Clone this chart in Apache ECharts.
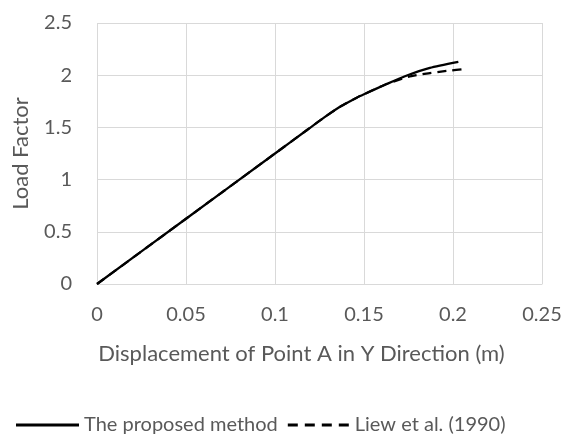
<!DOCTYPE html>
<html>
<head>
<meta charset="utf-8">
<script src="https://cdn.jsdelivr.net/npm/echarts@6/dist/echarts.min.js"></script>
<style>
  html, body { margin: 0; padding: 0; background: #fff; }
  #chart { width: 577px; height: 437px; }
</style>
</head>
<body>
<div id="chart"></div>
<script>
// Load–displacement curves for point A (Y direction)
const proposedX = [0, 0.05, 0.1, 0.1178, 0.1271, 0.1365, 0.1459, 0.15, 0.1627, 0.173, 0.187, 0.203];
const proposedY = [0, 0.625, 1.25, 1.4725, 1.589, 1.697, 1.785, 1.818, 1.915, 1.99, 2.07, 2.128];

const liewX = [0, 0.05, 0.1, 0.1178, 0.1271, 0.1365, 0.1459, 0.15, 0.1627, 0.1749, 0.185, 0.1964, 0.2077];
const liewY = [0, 0.625, 1.25, 1.4725, 1.589, 1.697, 1.785, 1.818, 1.915, 1.984, 2.016, 2.041, 2.062];

const seriesNames = ['The proposed method', 'Liew et al. (1990)'];
const xTicks = [0, 0.05, 0.1, 0.15, 0.2, 0.25];
const yTicks = [0, 0.5, 1, 1.5, 2, 2.5];

const pair = (xs, ys) => xs.map((x, i) => [x, ys[i]]);

const textColor = '#595959';
const gridColor = '#d9d9d9';
const font = 'Lato';
const tickSize = 20;
const titleSize = 22;

// Legend swatches: a solid bar and a four-dash bar
const solidIcon = 'path://M0,0H63V3H0Z';
const dashIcon = 'path://M0,0h10v3h-10z M17,0h10v3h-10z M34,0h10v3h-10z M51,0h10v3h-10z';

const chart = echarts.init(document.getElementById('chart'));
chart.setOption({
  animation: false,
  grid: { left: 97, right: 35, top: 23, bottom: 153, containLabel: false },
  xAxis: {
    type: 'value',
    min: xTicks[0], max: xTicks[xTicks.length - 1], interval: 0.05,
    name: 'Displacement of Point A in Y Direction (m)',
    nameLocation: 'middle', nameGap: 59,
    nameTextStyle: { color: textColor, fontSize: titleSize, fontFamily: font, padding: [0, 36, 0, 0] },
    axisLine: { show: true, lineStyle: { color: gridColor, width: 1 } },
    axisTick: { show: false },
    axisLabel: { color: textColor, fontSize: tickSize, fontFamily: font, margin: 21,
      formatter: v => String(+v.toFixed(2)) },
    splitLine: { show: true, lineStyle: { color: gridColor, width: 1 } }
  },
  yAxis: {
    type: 'value',
    min: yTicks[0], max: yTicks[yTicks.length - 1], interval: 0.5,
    name: 'Load Factor',
    nameLocation: 'middle', nameGap: 65, nameRotate: 90,
    nameTextStyle: { color: textColor, fontSize: titleSize, fontFamily: font },
    axisLine: { show: false },
    axisTick: { show: false },
    axisLabel: { color: textColor, fontSize: tickSize, fontFamily: font, margin: 25,
      formatter: v => String(+v.toFixed(1)) },
    splitLine: { show: true, lineStyle: { color: gridColor, width: 1 } }
  },
  legend: {
    bottom: -3, left: 11,
    itemWidth: 63, itemHeight: 3, itemGap: 10,
    itemStyle: { color: '#000', borderWidth: 0, opacity: 1 },
    textStyle: { color: textColor, fontSize: tickSize, fontFamily: font },
    data: [
      { name: seriesNames[0], icon: solidIcon, itemStyle: { color: '#000' } },
      { name: seriesNames[1], icon: dashIcon, itemStyle: { color: '#000' } }
    ]
  },
  series: [
    {
      name: seriesNames[0], type: 'line', showSymbol: false, symbol: 'none',
      smooth: 0.2, z: 3,
      lineStyle: { color: '#000', width: 2.25, type: 'solid', join: 'round' },
      itemStyle: { color: '#000' },
      data: pair(proposedX, proposedY)
    },
    {
      name: seriesNames[1], type: 'line', showSymbol: false, symbol: 'none',
      smooth: 0.2, z: 2,
      lineStyle: { color: '#000', width: 2.25, type: [9, 6], join: 'round' },
      itemStyle: { color: '#000' },
      data: pair(liewX, liewY)
    }
  ]
});
</script>
</body>
</html>
